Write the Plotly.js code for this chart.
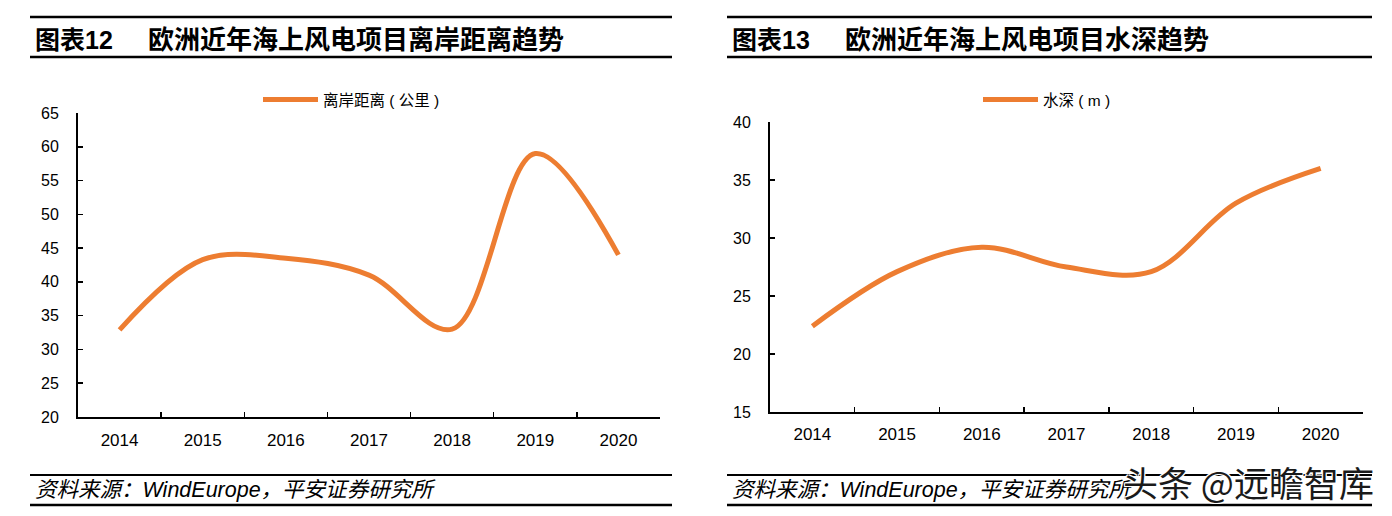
<!DOCTYPE html>
<html>
<head>
<meta charset="utf-8">
<script src="https://cdn.plot.ly/plotly-3.0.1.min.js"></script>
<style>
html,body{margin:0;padding:0;background:#fff;}
#chart{width:1392px;height:516px;}
</style>
</head>
<body>
<div id="chart"></div>
<script>
// ---- data ----
const years = ['2014', '2015', '2016', '2017', '2018', '2019', '2020'];
const distanceKm = [32.9, 43.3, 43.5, 41.0, 33.0, 59.0, 44.0];
const waterDepthM = [22.4, 27.1, 29.2, 27.5, 27.1, 33.0, 36.0];
const distanceTicks = [20, 25, 30, 35, 40, 45, 50, 55, 60, 65];
const depthTicks = [15, 20, 25, 30, 35, 40];

const W = 1392, H = 516;
const px = v => v / W;
const py = v => 1 - v / H;

const ORANGE = '#ED7D31';
const NUM_FONT = 'Liberation Sans, Arial, Noto Sans CJK SC, sans-serif';
const CJK_FONT = 'Liberation Sans, Arial, Noto Sans CJK SC, sans-serif';

const traces = [
  {
    x: years, y: distanceKm, xaxis: 'x', yaxis: 'y',
    type: 'scatter', mode: 'lines', name: '离岸距离 ( 公里 )',
    line: {color: ORANGE, width: 5, shape: 'spline', smoothing: 1},
    legend: 'legend', hoverinfo: 'x+y'
  },
  {
    x: years, y: waterDepthM, xaxis: 'x2', yaxis: 'y2',
    type: 'scatter', mode: 'lines', name: '水深 ( m )',
    line: {color: ORANGE, width: 5, shape: 'spline', smoothing: 1},
    legend: 'legend2', hoverinfo: 'x+y'
  }
];

function xAxis(domain, anchor, standoff) {
  return {
    domain: domain, anchor: anchor, type: 'category',
    range: [-0.5, years.length - 0.5],
    tickson: 'boundaries', ticks: 'inside', ticklen: 5, tickwidth: 1.5, tickcolor: '#000',
    showline: true, linecolor: '#000', linewidth: 2,
    showgrid: false, zeroline: false, fixedrange: true,
    tickfont: {family: NUM_FONT, size: 17, color: '#000'},
    ticklabelstandoff: standoff
  };
}
function yAxis(domain, anchor, range, ticks) {
  return {
    domain: domain, anchor: anchor, range: range,
    tickmode: 'array', tickvals: ticks, ticktext: ticks.map(String),
    ticks: 'inside', ticklen: 5, tickwidth: 1.5, tickcolor: '#000',
    showline: true, linecolor: '#000', linewidth: 2,
    showgrid: false, zeroline: false, fixedrange: true,
    tickfont: {family: NUM_FONT, size: 16, color: '#000'},
    ticklabelstandoff: 14
  };
}

function hline(x0, x1, y, w) {
  return {type: 'line', xref: 'paper', yref: 'paper', x0: px(x0), x1: px(x1), y0: py(y), y1: py(y),
          line: {color: '#000', width: w}};
}

const shapes = [
  hline(30, 672, 17, 2.5), hline(30, 672, 57, 2.5),
  hline(30, 672, 475, 2), hline(30, 672, 505, 2.5),
  hline(727, 1372, 17, 2.5), hline(727, 1372, 57, 2.5),
  hline(727, 1372, 475, 2), hline(727, 1372, 505, 2.5)
];

function txt(text, x, y, size, opts) {
  return Object.assign({
    text: text, xref: 'paper', yref: 'paper', x: px(x), y: py(y),
    xanchor: 'left', yanchor: 'middle', showarrow: false,
    font: {family: CJK_FONT, size: size, color: '#000'}
  }, opts || {});
}

const annotations = [
  txt('<b>图表12</b>', 33, 40, 25),
  txt('<b>欧洲近年海上风电项目离岸距离趋势</b>', 146, 40, 26),
  txt('<b>图表13</b>', 730, 40, 25),
  txt('<b>欧洲近年海上风电项目水深趋势</b>', 843, 40, 26),
  txt('<i>资料来源：WindEurope，平安证券研究所</i>', 33, 490, 21.5),
  txt('<i>资料来源：WindEurope，平安证券研究所</i>', 730, 490, 21.5),
  txt('头条 @远瞻智库', 1121, 481, 35,
      {font: {family: 'Noto Sans CJK SC, sans-serif', size: 35, color: '#1a1a1a',
              shadow: '1px 1px 0 #fff, -1px -1px 0 #fff, 1px -1px 0 #fff, -1px 1px 0 #fff'}})
];

const layout = {
  width: W, height: H,
  margin: {l: 0, r: 0, t: 0, b: 0, pad: 0},
  paper_bgcolor: '#fff', plot_bgcolor: '#fff',
  showlegend: true,
  xaxis: xAxis([px(78), px(660)], 'y', 7),
  yaxis: yAxis([py(417), py(113)], 'x', [20, 65], distanceTicks),
  xaxis2: xAxis([px(770), px(1363)], 'y2', 6),
  yaxis2: yAxis([py(412), py(122)], 'x2', [15, 40], depthTicks),
  legend: {
    x: px(258), y: py(100), xanchor: 'left', yanchor: 'middle',
    orientation: 'h', bgcolor: 'rgba(0,0,0,0)', itemwidth: 55,
    font: {family: CJK_FONT, size: 15.5, color: '#000'}
  },
  legend2: {
    x: px(978), y: py(100), xanchor: 'left', yanchor: 'middle',
    orientation: 'h', bgcolor: 'rgba(0,0,0,0)', itemwidth: 55,
    font: {family: CJK_FONT, size: 15.5, color: '#000'}
  },
  shapes: shapes,
  annotations: annotations
};

Plotly.newPlot('chart', traces, layout, {displayModeBar: false, staticPlot: true});
</script>
</body>
</html>
